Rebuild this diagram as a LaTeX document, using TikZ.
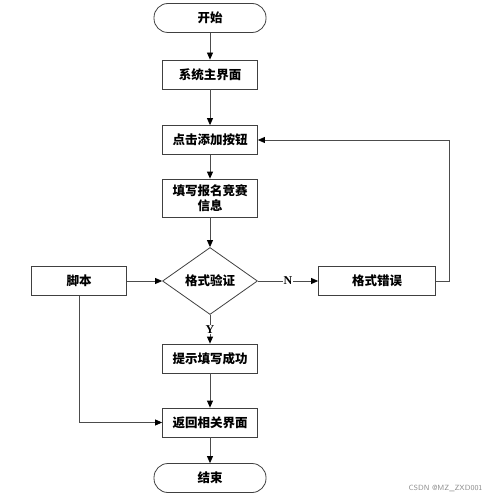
\documentclass[tikz,border=0pt]{standalone}
\usepackage{fontspec}
\setmainfont{Liberation Serif}
\newfontfamily\cjk{Noto Sans CJK SC}
\usetikzlibrary{arrows.meta,shapes.geometric}
\begin{document}
\begin{tikzpicture}[x=1pt,y=-1pt,
  every node/.style={font=\cjk\fontsize{12.5}{15}\selectfont\bfseries},
  box/.style={draw=black!75,line width=0.8pt,minimum width=95pt,minimum height=29pt,inner sep=1pt,align=center,text width=93pt},
  term/.style={draw=black!75,line width=0.8pt,minimum width=112pt,minimum height=29pt,rounded corners=14pt},
  dia/.style={draw=black!75,line width=0.8pt,diamond,aspect=1.42,minimum width=95pt,minimum height=67pt,inner sep=0pt},
  arr/.style={draw=black!70,line width=0.8pt,-{Triangle[length=7pt,width=6pt,color=black]}},
  ln/.style={draw=black!70,line width=0.8pt},
  lab/.style={font=\rmfamily\bfseries\fontsize{12}{14}\selectfont,fill=white,inner sep=0.5pt}]
\useasboundingbox (0,0) rectangle (489,500);
\node[term] (start) at (210,18) {开始};
\node[box] (main) at (210,74.5) {系统主界面};
\node[box] (click) at (210,140) {点击添加按钮};
\node[box,minimum height=38pt] (fill) at (210,198) {填写报名竞赛\\信息};
\node[dia] (check) at (210,281) {格式验证};
\node[box] (script) at (79,281) {脚本};
\node[box,minimum width=117pt,text width=115pt] (err) at (377,281) {格式错误};
\node[box] (ok) at (210,358.5) {提示填写成功};
\node[box] (back) at (210,422.5) {返回相关界面};
\node[term] (end) at (210,478) {结束};
\coordinate (c1) at (449,281);
\coordinate (c2) at (449,140);
\coordinate (c3) at (79,422.5);
\draw[arr] (start) -- (main);
\draw[arr] (main) -- (click);
\draw[arr] (click) -- (fill);
\draw[arr] (fill) -- (check);
\draw[arr] (check) -- node[lab,pos=0.5]{N} (err);
\draw[arr] (check) -- node[lab,pos=0.5]{Y} (ok);
\draw[arr] (script) -- (check);
\draw[ln] (err.east) -- (c1) -- (c2);
\draw[arr] (c2) -- (click.east);
\draw[arr] (ok) -- (back);
\draw[ln] (script.south) -- (c3);
\draw[arr] (c3) -- (back.west);
\draw[arr] (back) -- (end);
\node[font=\fontsize{7.5}{9}\selectfont\sffamily,text=black!45,anchor=east] (wm) at (486,488) {CSDN @MZ\_ZXD001};
\end{tikzpicture}
\end{document}
